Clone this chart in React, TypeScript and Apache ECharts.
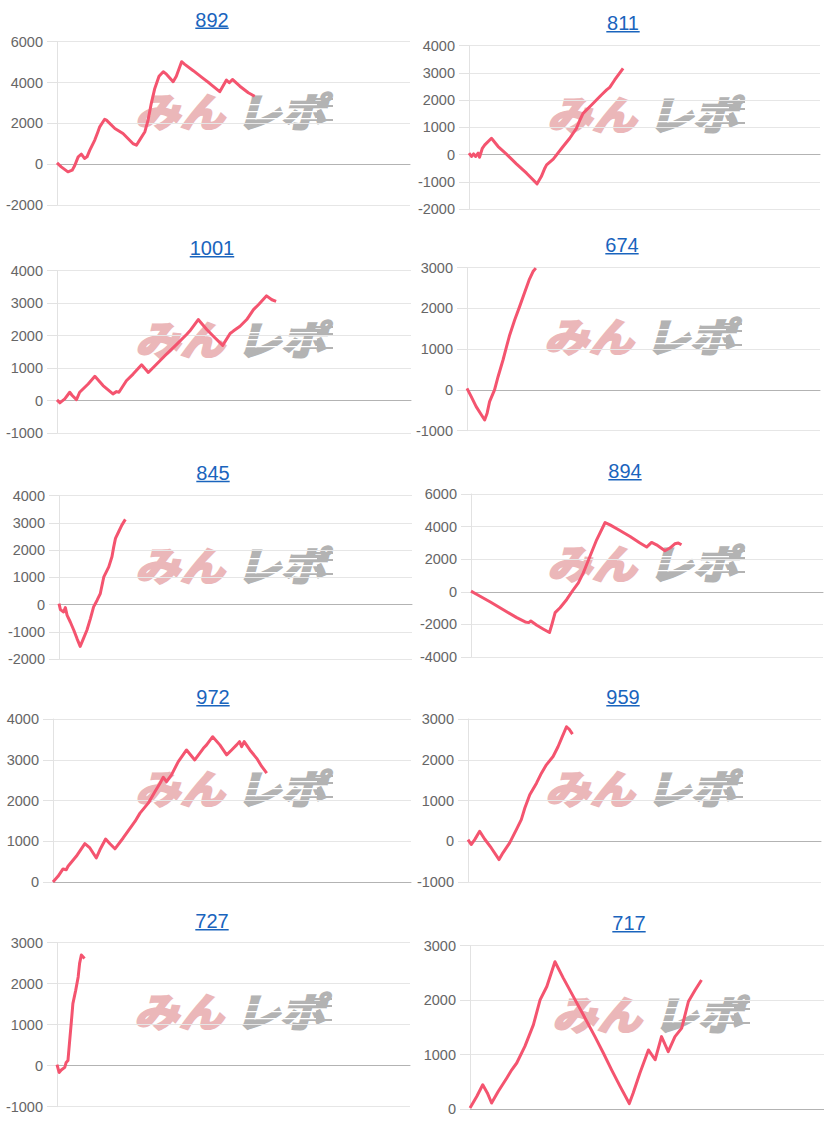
import React, { useEffect, useRef } from "react";
import * as echarts from "echarts";

// ---- data ----
const titles = ["892", "811", "1001", "674", "845", "894", "972", "959", "727", "717"];
const yMins = [-2000, -2000, -1000, -1000, -2000, -4000, 0, -1000, -1000, 0];
const yMaxs = [6000, 4000, 4000, 3000, 4000, 6000, 4000, 3000, 3000, 3000];
const yIntervals = [2000, 1000, 1000, 1000, 1000, 2000, 1000, 1000, 1000, 1000];
const xMax = 1000;

const s892 = [[0,65],[12,-130],[31,-375],[43,-295],[50,-80],[60,360],[69,490],[78,280],[85,360],[93,690],[107,1180],[116,1590],[121,1830],[135,2200],[140,2160],[164,1750],[187,1500],[215,1010],[225,930],[234,1180],[249,1590],[258,2160],[267,2970],[277,3710],[289,4310],[301,4530],[310,4410],[329,4040],[338,4310],[353,5020],[362,4890],[386,4580],[414,4200],[433,3950],[461,3550],[480,4120],[488,3990],[497,4150],[518,3820],[542,3500],[560,3330]];
const s811 = [[0,50],[7,-70],[13,25],[19,-70],[26,50],[30,-100],[38,230],[45,355],[64,600],[83,295],[106,25],[135,-340],[164,-685],[194,-1075],[206,-810],[216,-500],[221,-380],[240,-170],[268,295],[287,600],[306,965],[316,1270],[325,1515],[349,1820],[363,2005],[377,2190],[392,2375],[401,2470],[415,2740],[439,3170]];
const s1001 = [[0,20],[8,-70],[22,50],[36,255],[43,155],[55,30],[64,255],[88,510],[107,745],[130,460],[158,205],[168,275],[175,255],[196,610],[215,815],[239,1100],[258,865],[281,1120],[309,1425],[338,1730],[366,2035],[375,2140],[399,2495],[423,2190],[446,1935],[468,1700],[489,2065],[498,2140],[517,2290],[536,2495],[555,2800],[569,2950],[592,3225],[607,3105],[619,3055]];
const s674 = [[0,40],[12,-165],[26,-410],[41,-615],[50,-735],[57,-570],[64,-285],[78,0],[88,325],[102,735],[112,1065],[121,1350],[135,1715],[149,2045],[164,2410],[176,2700],[187,2905],[195,2990]];
const s845 = [[0,35],[4,-185],[13,-270],[18,-110],[23,-395],[32,-640],[42,-945],[51,-1250],[60,-1535],[68,-1290],[79,-945],[89,-515],[98,-85],[108,160],[117,405],[127,1020],[141,1385],[150,1755],[155,2120],[160,2430],[169,2675],[178,2920],[188,3130]];
const s894 = [[0,40],[17,-165],[55,-630],[93,-1120],[130,-1585],[154,-1850],[164,-1890],[170,-1790],[187,-2055],[206,-2295],[223,-2500],[230,-1990],[239,-1280],[253,-975],[272,-470],[291,140],[305,550],[319,1160],[334,1970],[357,3190],[381,4250],[395,4105],[423,3760],[452,3395],[480,2990],[499,2745],[513,3030],[527,2885],[551,2520],[565,2685],[579,2945],[589,2990],[598,2885]];
const s972 = [[0,0],[3,33],[14,140],[28,320],[37,300],[42,385],[65,630],[89,940],[103,835],[121,590],[131,790],[147,1055],[159,940],[173,815],[196,1080],[219,1365],[229,1485],[243,1690],[266,1935],[285,2220],[299,2425],[308,2570],[317,2465],[331,2630],[350,2955],[373,3240],[396,2995],[420,3280],[429,3365],[446,3565],[466,3365],[485,3120],[499,3240],[513,3365],[521,3445],[527,3320],[534,3445],[550,3240],[569,3035],[583,2835],[597,2670]];
const s959 = [[0,40],[9,-80],[19,40],[33,245],[47,55],[66,-165],[88,-450],[99,-285],[118,-40],[137,285],[151,530],[161,815],[175,1140],[194,1425],[208,1670],[222,1875],[241,2080],[255,2320],[265,2525],[279,2810],[287,2745],[296,2630]];
const s727 = [[0,25],[6,-165],[12,-105],[22,-40],[26,80],[31,125],[36,615],[41,1105],[45,1515],[53,1840],[60,2165],[64,2495],[69,2700],[78,2615]];
const s717 = [[0,20],[19,230],[36,445],[49,295],[61,110],[80,325],[104,570],[118,720],[132,845],[155,1150],[179,1545],[198,2005],[217,2250],[240,2705],[264,2400],[292,2065],[320,1730],[353,1330],[377,1025],[400,720],[424,415],[450,100],[461,295],[480,660],[504,1085],[523,905],[541,1330],[560,1055],[579,1330],[598,1485],[617,1975],[636,2185],[654,2370]];

const seriesData = [s892, s811, s1001, s674, s845, s894, s972, s959, s727, s717];

// ---- layout (pixels) ----
const panels = [
  { l: 57, t: 41.7, r: 410, b: 205, tx: 212, ty: 19.5, wx: 133, wy: 95 },
  { l: 469, t: 45.7, r: 820, b: 209, tx: 623, ty: 23, wx: 545, wy: 98 },
  { l: 57, t: 270.7, r: 411, b: 433, tx: 212, ty: 248, wx: 133, wy: 323 },
  { l: 467, t: 267.7, r: 820, b: 430.7, tx: 622, ty: 245, wx: 542, wy: 320 },
  { l: 59, t: 495.7, r: 412, b: 659, tx: 213, ty: 472.7, wx: 133, wy: 549 },
  { l: 471, t: 494, r: 823, b: 657, tx: 625, ty: 471, wx: 545, wy: 547 },
  { l: 53, t: 719, r: 411, b: 882, tx: 213, ty: 697, wx: 133, wy: 772 },
  { l: 468, t: 719, r: 821, b: 882, tx: 623, ty: 697, wx: 543, wy: 772 },
  { l: 57, t: 942.7, r: 410, b: 1106.7, tx: 212, ty: 921, wx: 132, wy: 995 },
  { l: 470, t: 945.7, r: 824, b: 1109, tx: 629, ty: 923, wx: 550, wy: 998 },
];

const LINE = "#f4546f";
const LINK = "#1a64bd";
const FONT = "'Liberation Sans', Arial, sans-serif";
const CJK = "'Noto Sans CJK JP', sans-serif";
const PINK = "#ebb7b9";
const GRAY = "#b3b3b3";

function watermark(p: { wx: number; wy: number }) {
  const stripes = [9, 16, 23].map((dy) => ({
    type: "rect",
    shape: { x: 104, y: dy, width: 80, height: 1.2 },
    style: { fill: "#ffffff" },
  }));
  const streaks = [
    [178, 3, 22], [176, 10, 24], [170, 24, 30],
  ].map(([x, y, w]) => ({
    type: "rect",
    shape: { x, y, width: w, height: 2 },
    style: { fill: GRAY },
  }));
  const txt = (text: string, x: number, fill: string) => ({
    type: "text",
    x,
    y: 15,
    scaleX: 1.12,
    style: {
      text,
      fontSize: 40,
      fontWeight: 900,
      fontStyle: "italic",
      fontFamily: CJK,
      fill,
      stroke: fill,
      lineWidth: 1.6,
      verticalAlign: "middle",
      align: "left",
    },
  });
  return {
    type: "group",
    x: p.wx,
    y: p.wy,
    z: 1,
    silent: true,
    children: [txt("みん", 2, PINK), txt("レポ", 103, GRAY), ...streaks, ...stripes],
  };
}

function buildOption() {
  const grid: any[] = [];
  const xAxis: any[] = [];
  const yAxis: any[] = [];
  const series: any[] = [];
  const graphic: any[] = [];

  panels.forEach((p, i) => {
    grid.push({ left: p.l, top: p.t, width: p.r - p.l, height: p.b - p.t, containLabel: false });
    xAxis.push({
      type: "value",
      gridIndex: i,
      min: 0,
      max: xMax,
      axisLabel: { show: false },
      axisTick: { show: false },
      splitLine: { show: false },
      axisLine: { show: true, onZero: true, lineStyle: { color: "#b3b3b3", width: 1 } },
    });
    yAxis.push({
      type: "value",
      gridIndex: i,
      min: yMins[i],
      max: yMaxs[i],
      interval: yIntervals[i],
      axisLine: { show: true, lineStyle: { color: "#e2e2e2" } },
      axisTick: { show: true, length: 10, lineStyle: { color: "#e2e2e2" } },
      axisLabel: {
        color: "#666",
        fontSize: 14.5,
        margin: 14,
        fontFamily: FONT,
        formatter: (v: number) => String(v),
      },
      splitLine: { show: true, lineStyle: { color: "#e6e6e6" } },
    });
    series.push({
      type: "line",
      xAxisIndex: i,
      yAxisIndex: i,
      data: seriesData[i],
      showSymbol: false,
      symbol: "none",
      silent: true,
      z: 5,
      lineStyle: { color: LINE, width: 3, join: "round" },
      itemStyle: { color: LINE },
    });

    const tw = titles[i].length * 0.556 * 20;
    graphic.push({
      type: "text",
      x: p.tx,
      y: p.ty,
      z: 10,
      style: {
        text: titles[i],
        fontSize: 20,
        fontFamily: FONT,
        fill: LINK,
        align: "center",
        verticalAlign: "middle",
      },
    });
    graphic.push({
      type: "rect",
      z: 10,
      shape: { x: p.tx - tw / 2, y: p.ty + 8, width: tw, height: 1.5 },
      style: { fill: LINK },
    });
    graphic.push(watermark(p));
  });

  return {
    animation: false,
    backgroundColor: "#ffffff",
    grid,
    xAxis,
    yAxis,
    series,
    graphic,
  };
}

export default function App() {
  const ref = useRef<HTMLDivElement>(null);
  useEffect(() => {
    if (!ref.current) return;
    const chart = echarts.init(ref.current, undefined, { renderer: "svg" });
    chart.setOption(buildOption() as any);
    return () => chart.dispose();
  }, []);
  return (
    <div
      ref={ref}
      style={{ position: "absolute", left: 0, top: 0, width: 824, height: 1125 }}
    />
  );
}
